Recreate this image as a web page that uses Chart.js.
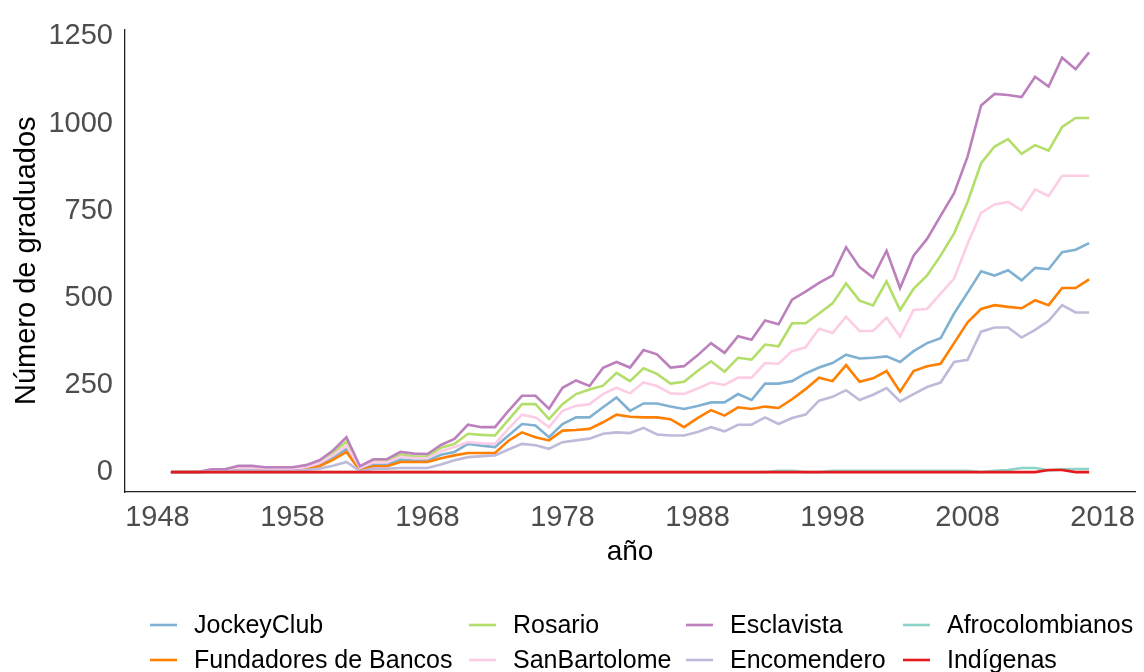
<!DOCTYPE html>
<html>
<head>
<meta charset="utf-8">
<script src="https://cdn.jsdelivr.net/npm/chart.js@4"></script>
<style>
  html, body { margin: 0; padding: 0; background: #ffffff; }
  #c { display: block; }
</style>
</head>
<body>
<canvas id="c" width="1144" height="672"></canvas>
<script>
// ---- data ----
const years = [1949,1950,1951,1952,1953,1954,1955,1956,1957,1958,1959,1960,1961,1962,1963,1964,1965,1966,1967,1968,
  1969,1970,1971,1972,1973,1974,1975,1976,1977,1978,1979,1980,1981,1982,1983,1984,1985,1986,1987,1988,
  1989,1990,1991,1992,1993,1994,1995,1996,1997,1998,1999,2000,2001,2002,2003,2004,2005,2006,2007,2008,
  2009,2010,2011,2012,2013,2014,2015,2016,2017];

const jockeyClub = [0,0,0, 4,4,11,11,9,9,9,12,22,42,66, 9,22,22,36,33,33,50,58,
  81,76,72,105,138,134,100,138,157,157, 186,214,176,197,197,188,181,190,200,200,
  224,207,254,254,261,283,300,313,337,326, 328,332,316,347,370,384,455,515,576,564,
  579,550,586,582,631,638,657];
const fundadores = [0,0,0, 3,3,8,8,6,6,6,9,17,35,58, 5,17,17,29,29,29,40,48,
  55,55,55,90,114,100,91,119,121,124, 143,165,159,157,157,152,129,155,178,162,
  186,181,188,184,209,238,271,261,307,259, 269,290,231,290,304,311,370,430,468,479,
  474,470,493,479,528,528,553];
const rosario = [0,0,0, 6,6,15,15,12,12,12,17,30,55,88, 14,32,32,50,45,45,70,81,
  110,107,105,150,195,195,152,195,224,237, 248,285,261,298,282,254,259,290,318,288,
  328,323,366,361,427,427,455,484,541,492, 478,547,465,526,564,621,685,775,886,934,
  955,913,938,922,990,1016,1016];
const sanBartolome = [0,0,0, 5,5,13,13,10,10,10,14,26,48,76, 12,28,28,44,40,40,60,72,
  86,83,81,125,165,157,129,176,190,195, 224,242,226,257,247,226,224,240,257,250,
  271,271,313,311,347,358,411,399,446,405, 405,443,389,465,468,512,555,655,744,768,
  775,751,811,792,850,850,850];
const esclavista = [0,0,0, 8,8,18,18,14,14,14,20,34,62,100, 17,37,37,58,53,52,78,95,
  136,129,129,176,219,219,182,242,263,247, 299,316,300,350,338,300,304,335,370,342,
  390,380,435,424,495,518,543,564,645,588, 558,635,528,621,669,735,800,905,1052,1085,
  1082,1076,1134,1106,1189,1156,1204];
const encomendero = [0,0,0, 2,2,5,5,4,4,4,6,10,18,29, 3,10,10,12,12,12,22,34,
  43,46,48,65,81,77,67,86,91,96, 110,114,112,127,108,105,105,115,129,117,
  136,136,157,138,155,165,205,216,235,207, 222,241,203,224,244,257,316,322,403,415,
  415,386,408,434,479,458,458];
const afrocolombianos = [0,0,0,0,0,0,0,0,0,0,0,0,0,0,0,0,0,0,0,0,
  0,0,0,0,0,0,0,0,0,0,0,0,0,0,0,0,0,0,0,0,
  0,0,0,0,0,4,4,0,0,4,4,4,4,4,4,4,4,4,4,4,
  0,4,6,12,12,5,8,9,9];
const indigenas = [0,0,0,0,0,0,0,0,0,0,0,0,0,0,0,0,0,0,0,0,
  0,0,0,0,0,0,0,0,0,0,0,0,0,0,0,0,0,0,0,0,
  0,0,0,0,0,0,0,0,0,0,0,0,0,0,0,0,0,0,0,0,
  0,0,0,0,0,6,6,0,0];

const seriesNames = ['JockeyClub','Fundadores de Bancos','Rosario','SanBartolome','Esclavista','Encomendero','Afrocolombianos','Indígenas'];
const seriesValues = [jockeyClub, fundadores, rosario, sanBartolome, esclavista, encomendero, afrocolombianos, indigenas];
const seriesColors = ['#80B1D3','#FF7F00','#B3DE69','#FCCDE5','#BC80BD','#BEBADA','#8DD3C7','#E41A1C'];

const xTicks = [1948,1958,1968,1978,1988,1998,2008,2018];
const yTicks = [0,250,500,750,1000,1250];

const FONT = '"Liberation Sans", Arial, Helvetica, sans-serif';

// ---- legend drawn ggplot-style (column-major, 2 rows x 4 columns) ----
const ggLegend = {
  id: 'ggLegend',
  afterDraw(chart) {
    const c = chart.ctx;
    const keyX = [150, 469, 686, 903];
    const rowY = [625, 660];
    const keyLen = 27, gap = 17;
    c.save();
    c.font = '25px ' + FONT;
    c.textBaseline = 'middle';
    c.textAlign = 'left';
    seriesNames.forEach((name, i) => {
      const col = Math.floor(i / 2), row = i % 2;
      const x = keyX[col], y = rowY[row];
      c.strokeStyle = seriesColors[i];
      c.lineWidth = 2.6;
      c.beginPath();
      c.moveTo(x, y);
      c.lineTo(x + keyLen, y);
      c.stroke();
      c.fillStyle = '#000000';
      c.fillText(name, x + keyLen + gap, y + 1);
    });
    c.restore();
  }
};

const datasets = seriesNames.map((name, i) => ({
  label: name,
  data: years.map((yr, k) => ({ x: yr, y: seriesValues[i][k] })),
  borderColor: seriesColors[i],
  backgroundColor: seriesColors[i],
  borderWidth: 2.6,
  pointRadius: 0,
  tension: 0,
  fill: false,
  order: seriesNames.length - i
}));

new Chart(document.getElementById('c').getContext('2d'), {
  type: 'line',
  data: { datasets },
  options: {
    responsive: false,
    animation: false,
    devicePixelRatio: 1,
    layout: { padding: { top: 25, right: 4, left: 0, bottom: 100 } },
    plugins: { legend: { display: false }, tooltip: { enabled: false } },
    scales: {
      x: {
        type: 'linear',
        min: 1945.6,
        max: 2020.4,
        afterBuildTicks: s => { s.ticks = xTicks.map(v => ({ value: v })); },
        afterFit: s => { s.height = 80; },
        grid: { display: false, drawTicks: false },
        border: { display: true, color: '#222222', width: 1.3 },
        ticks: {
          autoSkip: false, maxRotation: 0, padding: 9,
          color: '#4D4D4D', font: { family: FONT, size: 29 },
          callback: v => String(v)
        },
        title: {
          display: true, text: 'año', color: '#000000',
          font: { family: FONT, size: 28 }, padding: { top: 0, bottom: 3 }
        }
      },
      y: {
        type: 'linear',
        min: -57,
        max: 1270,
        afterBuildTicks: s => { s.ticks = yTicks.map(v => ({ value: v })); },
        afterFit: s => { s.width = 125; },
        grid: { display: false, drawTicks: false },
        border: { display: true, color: '#222222', width: 1.3 },
        ticks: {
          padding: 12, color: '#4D4D4D', font: { family: FONT, size: 29 },
          callback: v => String(v)
        },
        title: {
          display: true, text: 'Número de graduados', color: '#000000',
          font: { family: FONT, size: 29 }, padding: { top: 10, bottom: 0 }
        }
      }
    }
  },
  plugins: [ggLegend]
});
</script>
</body>
</html>
